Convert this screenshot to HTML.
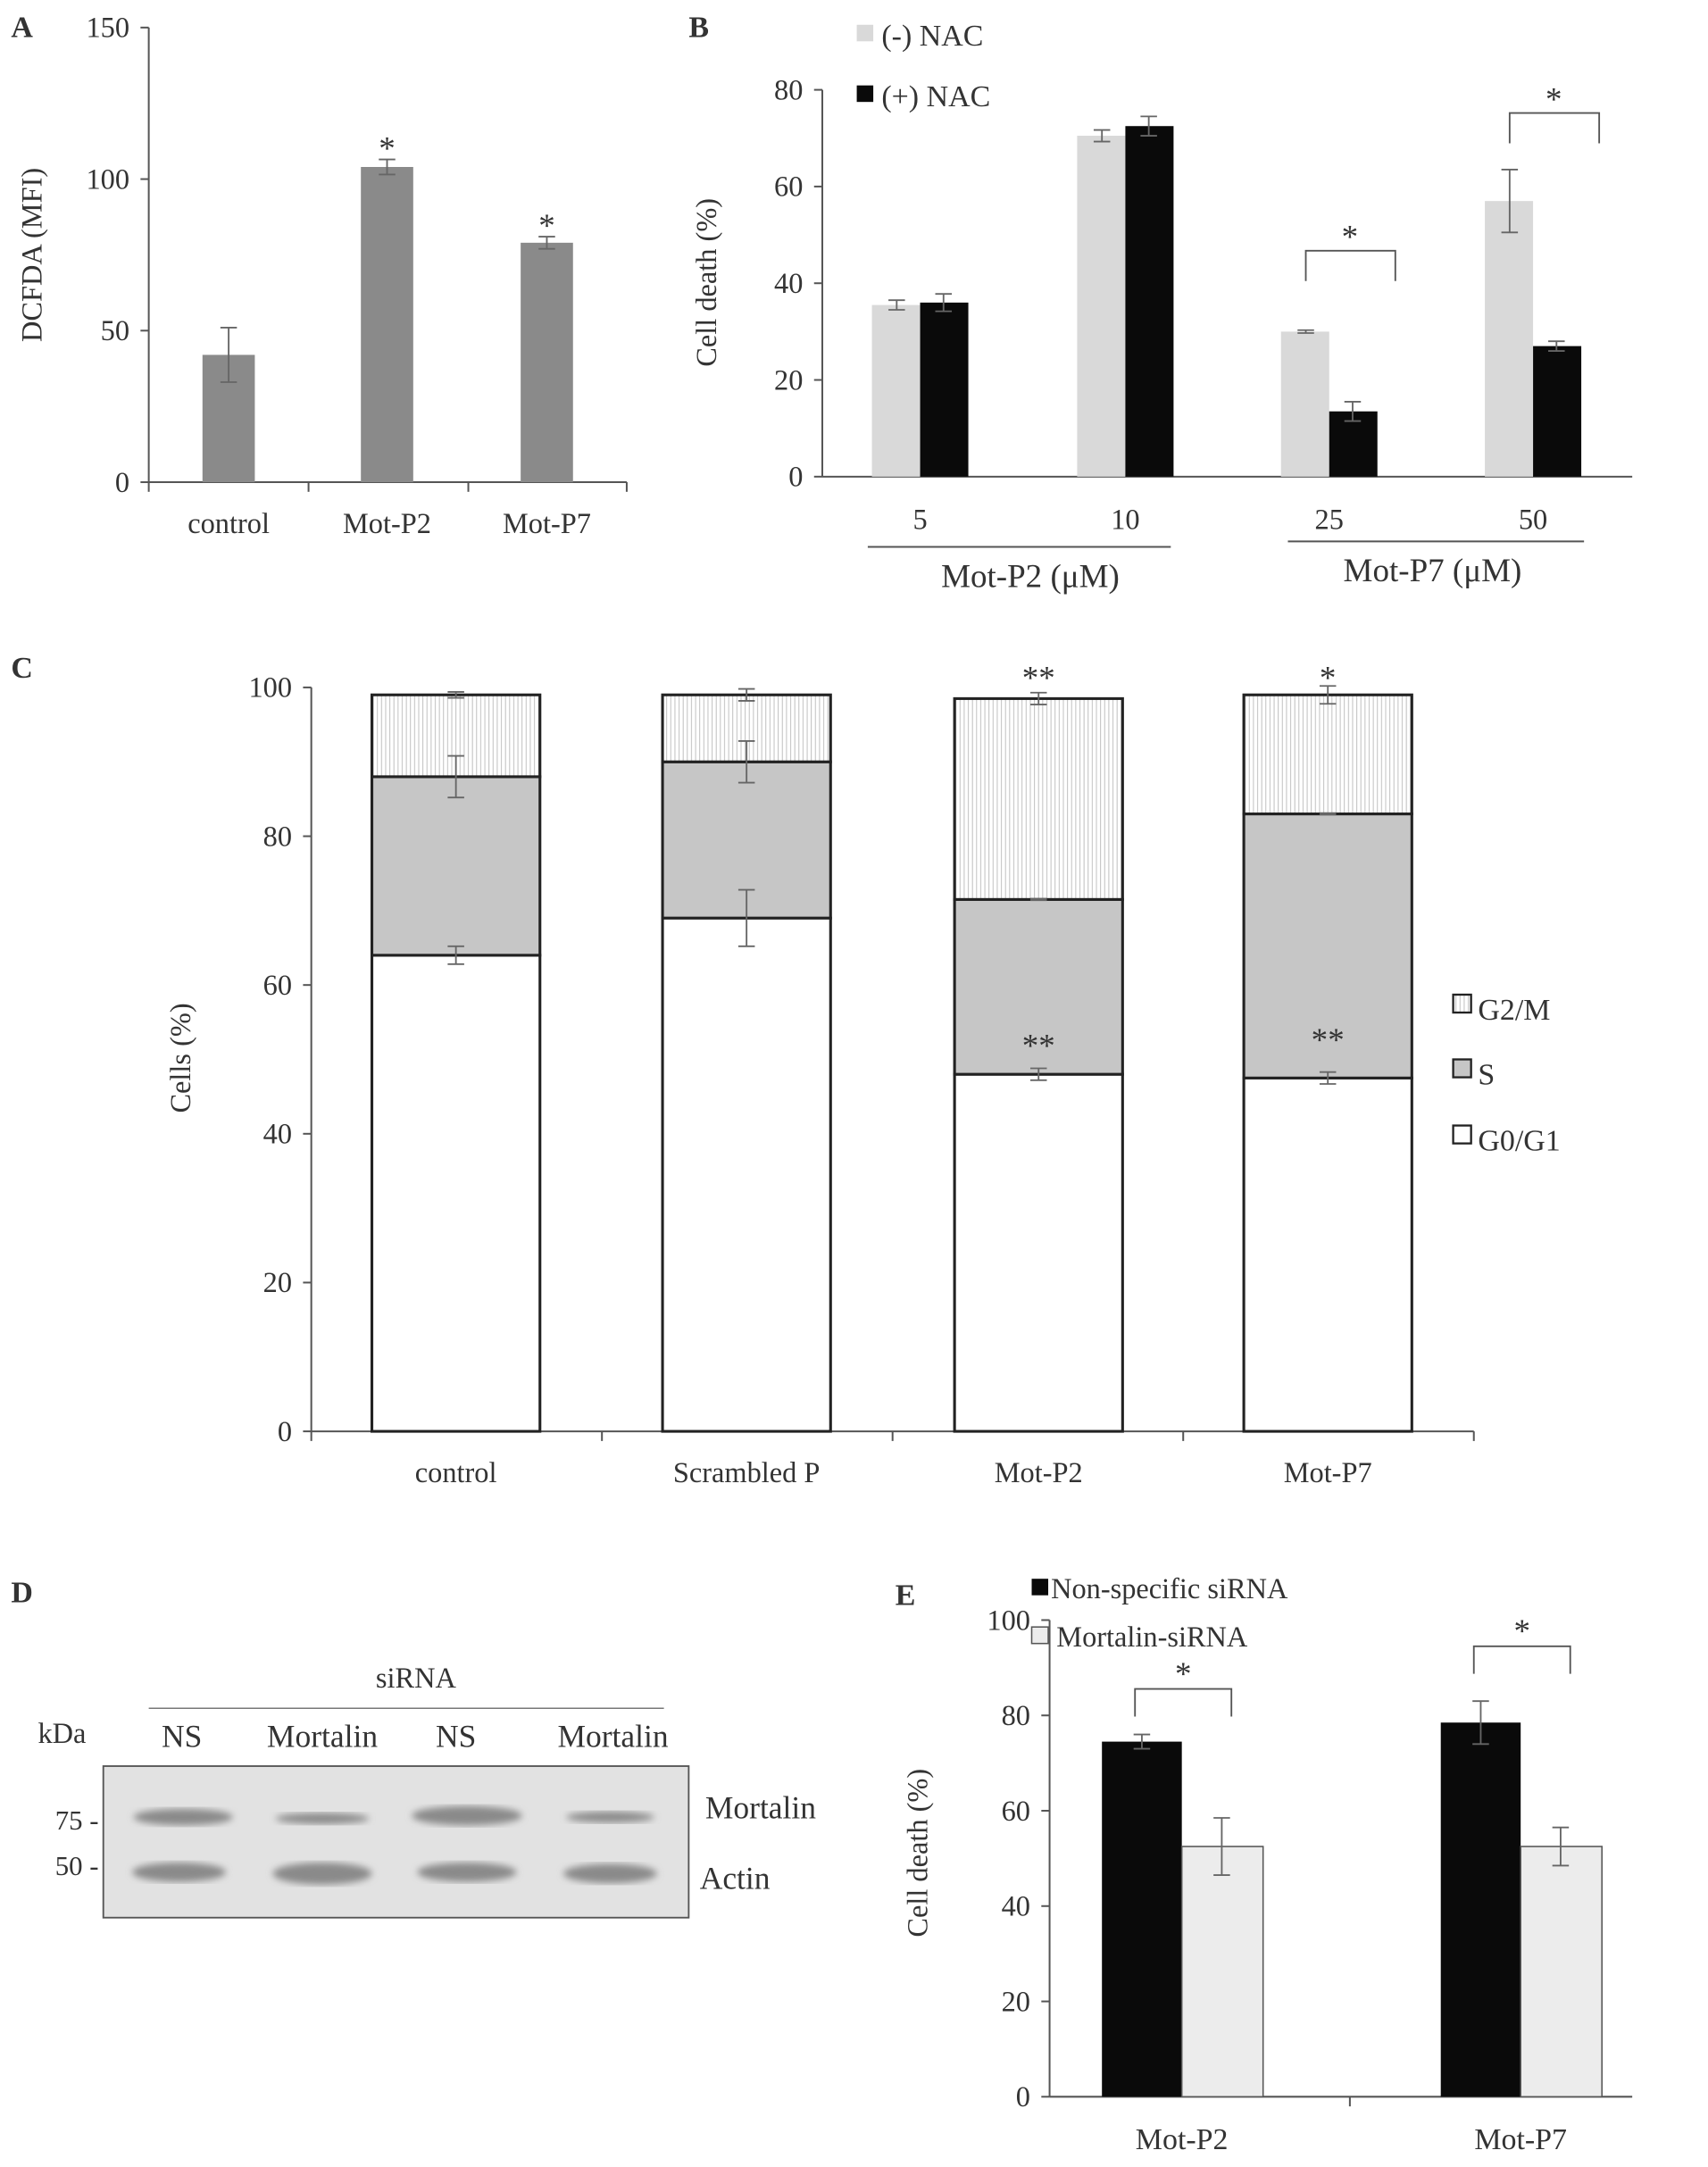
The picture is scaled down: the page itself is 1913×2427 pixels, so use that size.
<!DOCTYPE html>
<html><head><meta charset="utf-8"><style>
html,body{margin:0;padding:0;background:#fff}
svg{display:block}
text{font-family:"Liberation Serif",serif;fill:#333}
</style></head><body>
<svg id="s" width="1913" height="2427" viewBox="0 0 1240 1573" preserveAspectRatio="none" xmlns="http://www.w3.org/2000/svg">
<defs>
<pattern id="vs" width="3" height="10" patternUnits="userSpaceOnUse"><rect width="3" height="10" fill="#fff"/><line x1="1" y1="0" x2="1" y2="10" stroke="#bbb" stroke-width="0.6"/></pattern>
<filter id="bl"><feGaussianBlur stdDeviation="2.5"/></filter>
</defs>
<g id="root"></g>
</svg>
<script>
// Panel A
const aCats=["control","Mot-P2","Mot-P7"];
const aVals=[42,104,79];
const aErr=[9,2.5,2];
const aTicks=[0,50,100,150];
// Panel B
const bCats=["5","10","25","50"];
const bNoNac=[35.5,70.5,30,57];
const bNac=[36,72.5,13.5,27];
const bErrNo=[1,1.2,0.3,6.5];
const bErrNac=[1.8,2,2,1];
const bTicks=[0,20,40,60,80];
// Panel C
const cCats=["control","Scrambled P","Mot-P2","Mot-P7"];
const cG1=[64,69,48,47.5];
const cS=[24,21,23.5,35.5];
const cG2=[11,9,27,16];
const cErrG1=[1.2,3.8,0.8,0.8];
const cErrS=[2.8,2.8,0.1,0.1];
const cErrG2=[0.4,0.8,0.8,1.2];
const cTicks=[0,20,40,60,80,100];
// Panel E
const eCats=["Mot-P2","Mot-P7"];
const eNS=[74.5,78.5];
const eMort=[52.5,52.5];
const eErrNS=[1.5,4.5];
const eErrM=[6,4];
const eTicks=[0,20,40,60,80,100];

const NS="http://www.w3.org/2000/svg";
const root=document.getElementById('root');
function el(tag,attrs,name,parent){const e=document.createElementNS(NS,tag);for(const k in attrs)e.setAttribute(k,attrs[k]);


(parent||root).appendChild(e);return e;}
function txt(x,y,s,size,name,anchor,extra){const t=el('text',Object.assign({x:x,y:y,'font-size':size,'text-anchor':anchor||'middle'},extra||{}),name);t.textContent=s;return t;}
function line(x1,y1,x2,y2,name,c,w){return el('line',{x1,y1,x2,y2,stroke:c||'#555','stroke-width':w||1.3},name);}
function errbar(x,y1,y2,name,hw){hw=hw||6;line(x,y1,x2=x,y2,name,'#666',1.2);line(x-hw,y1,x+hw,y1,name+'-cap','#666',1.2);line(x-hw,y2,x+hw,y2,name+'-cap','#666',1.2);}
function yaxis(x,ya,max,ticks,name,fs){line(x,ya(0),x,ya(max),name+'-line');ticks.forEach(t=>{line(x-6,ya(t),x,ya(t),name+'-tick');txt(x-14,ya(t)+7,String(t),fs||21,name+'-label','end');});}

// ---- A
txt(8,27,"A",22,"panel-a-label","start",{'font-weight':'bold',fill:'#111'});
const ayA=v=>350-v*2.2;
yaxis(108,ayA,150,aTicks,"a-y-axis",21);
line(108,350,455,350,"a-x-axis");
[108,224,340,455].forEach(x=>line(x,350,x,357,"a-x-tick"));
const aX=[166,281,397];
aCats.forEach((c,i)=>{
 el('rect',{x:aX[i]-19,y:ayA(aVals[i]),width:38,height:350-ayA(aVals[i]),fill:'#8a8a8a'},"a-bar-"+c);
 errbar(aX[i],ayA(aVals[i]+aErr[i]),ayA(aVals[i]-aErr[i]),"a-error");
 txt(aX[i],387,c,21,"a-x-label");
 if(i>0)txt(aX[i],ayA(aVals[i]+aErr[i])+0,"*",24,"a-significance");
});
txt(30,185,"DCFDA (MFI)",21,"a-y-axis-title","middle",{transform:"rotate(-90 30 185)"});

// ---- B
txt(500,27,"B",22,"panel-b-label","start",{'font-weight':'bold',fill:'#111'});
const byB=v=>346-v*3.51;
yaxis(597,byB,80,bTicks,"b-y-axis",21);
line(597,346,1185,346,"b-x-axis");
txt(520,205,"Cell death (%)",21,"b-y-axis-title","middle",{transform:"rotate(-90 520 205)"});
const bX=[668,817,965,1113];
bCats.forEach((c,i)=>{
 el('rect',{x:bX[i]-35,y:byB(bNoNac[i]),width:35,height:346-byB(bNoNac[i]),fill:'#d9d9d9'},"b-bar-no-nac-"+c);
 el('rect',{x:bX[i],y:byB(bNac[i]),width:35,height:346-byB(bNac[i]),fill:'#0a0a0a'},"b-bar-nac-"+c);
 errbar(bX[i]-17,byB(bNoNac[i]+bErrNo[i]),byB(bNoNac[i]-bErrNo[i]),"b-error");
 errbar(bX[i]+17,byB(bNac[i]+bErrNac[i]),byB(bNac[i]-bErrNac[i]),"b-error");
 txt(bX[i],384,c,21,"b-x-label");
});
[[2,182],[3,82]].forEach(([i,y])=>{
 const p=`M${bX[i]-17},${y+22} L${bX[i]-17},${y} L${bX[i]+48},${y} L${bX[i]+48},${y+22}`;
 el('path',{d:p,fill:'none',stroke:'#555','stroke-width':1.2},"b-bracket");
 txt(bX[i]+15,y-2,"*",24,"b-significance");
});
line(630,397,850,397,"b-group-line");line(935,393,1150,393,"b-group-line");
txt(748,426,"Mot-P2 (μM)",24,"b-group-label");txt(1040,422,"Mot-P7 (μM)",24,"b-group-label");
el('rect',{x:622,y:18,width:12,height:12,fill:'#d9d9d9'},"b-legend-swatch-no-nac");
txt(640,33,"(-) NAC",22,"b-legend-no-nac","start");
el('rect',{x:622,y:62,width:12,height:12,fill:'#0a0a0a'},"b-legend-swatch-nac");
txt(640,77,"(+) NAC",22,"b-legend-nac","start");

// ---- C
txt(8,492,"C",22,"panel-c-label","start",{'font-weight':'bold',fill:'#111'});
const cyC=v=>1039-v*5.4;
yaxis(226,cyC,100,cTicks,"c-y-axis",21);
line(226,1039,1070,1039,"c-x-axis");
[226,437,648,859,1070].forEach(x=>line(x,1039,x,1046,"c-x-tick"));
txt(138,768,"Cells  (%)",21,"c-y-axis-title","middle",{transform:"rotate(-90 138 768)"});
const cX=[331,542,754,964];
cCats.forEach((c,i)=>{
 const x=cX[i]-61,w=122;
 const t1=cG1[i],t2=t1+cS[i],t3=t2+cG2[i];
 el('rect',{x:x,y:cyC(t1),width:w,height:cyC(0)-cyC(t1),fill:'#fff',stroke:'#222','stroke-width':2},"c-bar-g0g1-"+c);
 el('rect',{x:x,y:cyC(t2),width:w,height:cyC(t1)-cyC(t2),fill:'#c6c6c6',stroke:'#222','stroke-width':2},"c-bar-s-"+c);
 el('rect',{x:x,y:cyC(t3),width:w,height:cyC(t2)-cyC(t3),fill:'url(#vs)',stroke:'#222','stroke-width':2},"c-bar-g2m-"+c);
 errbar(cX[i],cyC(t1+cErrG1[i]),cyC(t1-cErrG1[i]),"c-error-g1");
 errbar(cX[i],cyC(t2+cErrS[i]),cyC(t2-cErrS[i]),"c-error-s");
 errbar(cX[i],cyC(t3+cErrG2[i]),cyC(t3-cErrG2[i]),"c-error-g2m");
 txt(cX[i],1076,c,21,"c-x-label");
});
txt(cX[2],500,"**",24,"c-significance");txt(cX[3],500,"*",24,"c-significance");
txt(cX[2],767,"**",24,"c-significance");txt(cX[3],763,"**",24,"c-significance");
[["G2/M",731,'url(#vs)'],["S",778,'#c6c6c6'],["G0/G1",826,'#fff']].forEach(([n,y,f])=>{
 el('rect',{x:1055,y:y-9,width:13,height:13,fill:f,stroke:'#222','stroke-width':1.5},"c-legend-swatch-"+n);
 txt(1073,y+9,n,22,"c-legend-"+n,"start");
});

// ---- D
txt(8,1163,"D",22,"panel-d-label","start",{'font-weight':'bold',fill:'#111'});
txt(302,1225,"siRNA",21,"d-sirna-label");
line(108,1240,482,1240,"d-sirna-line",'#777',1);
txt(45,1265,"kDa",21,"d-kda-label");
[["NS",132],["Mortalin",234],["NS",331],["Mortalin",445]].forEach(([n,x])=>txt(x,1268,n,23,"d-lane-label"));
el('rect',{x:75,y:1282,width:425,height:110,fill:'#e2e2e2',stroke:'#555','stroke-width':1.2},"d-blot");
const bands=[[133,1319,36,6],[234,1320,34,4],[339,1318,40,7],[443,1319,32,4],[130,1359,34,7],[234,1360,36,8],[339,1359,36,7],[443,1360,34,7]];
bands.forEach(([x,y,rx,ry])=>el('ellipse',{cx:x,cy:y,rx:rx,ry:ry,fill:'#8a8a8a',filter:'url(#bl)'},"d-band"));
txt(40,1328,"75 -",20,"d-marker-75","start");txt(40,1361,"50 -",20,"d-marker-50","start");
txt(512,1320,"Mortalin",23,"d-mortalin-label","start");txt(508,1371,"Actin",23,"d-actin-label","start");

// ---- E
txt(650,1165,"E",22,"panel-e-label","start",{'font-weight':'bold',fill:'#111'});
const eyE=v=>1522-v*3.46;
yaxis(762,eyE,100,eTicks,"e-y-axis",21);
line(762,1522,1185,1522,"e-x-axis");line(980,1522,980,1529,"e-x-tick");
txt(673,1345,"Cell death (%)",21,"e-y-axis-title","middle",{transform:"rotate(-90 673 1345)"});
const eX=[858,1104];
eCats.forEach((c,i)=>{
 el('rect',{x:eX[i]-58,y:eyE(eNS[i]),width:58,height:1522-eyE(eNS[i]),fill:'#0a0a0a'},"e-bar-ns-"+c);
 el('rect',{x:eX[i],y:eyE(eMort[i]),width:59,height:1522-eyE(eMort[i]),fill:'#ececec',stroke:'#555','stroke-width':1},"e-bar-mortalin-"+c);
 errbar(eX[i]-29,eyE(eNS[i]+eErrNS[i]),eyE(eNS[i]-eErrNS[i]),"e-error");
 errbar(eX[i]+29,eyE(eMort[i]+eErrM[i]),eyE(eMort[i]-eErrM[i]),"e-error");
 txt(eX[i],1560,c,22,"e-x-label");
 const y=i?1195:1226;
 el('path',{d:`M${eX[i]-34},${y+20} L${eX[i]-34},${y} L${eX[i]+36},${y} L${eX[i]+36},${y+20}`,fill:'none',stroke:'#555','stroke-width':1.2},"e-bracket");
 txt(eX[i]+1,y-3,"*",24,"e-significance");
});
el('rect',{x:749,y:1146,width:12,height:12,fill:'#0a0a0a'},"e-legend-swatch-ns");
txt(763,1160,"Non-specific siRNA",21,"e-legend-ns","start");
el('rect',{x:749,y:1181,width:12,height:12,fill:'#ececec',stroke:'#555'},"e-legend-swatch-mortalin");
txt(767,1195,"Mortalin-siRNA",21,"e-legend-mortalin","start");
</script>
</body></html>
